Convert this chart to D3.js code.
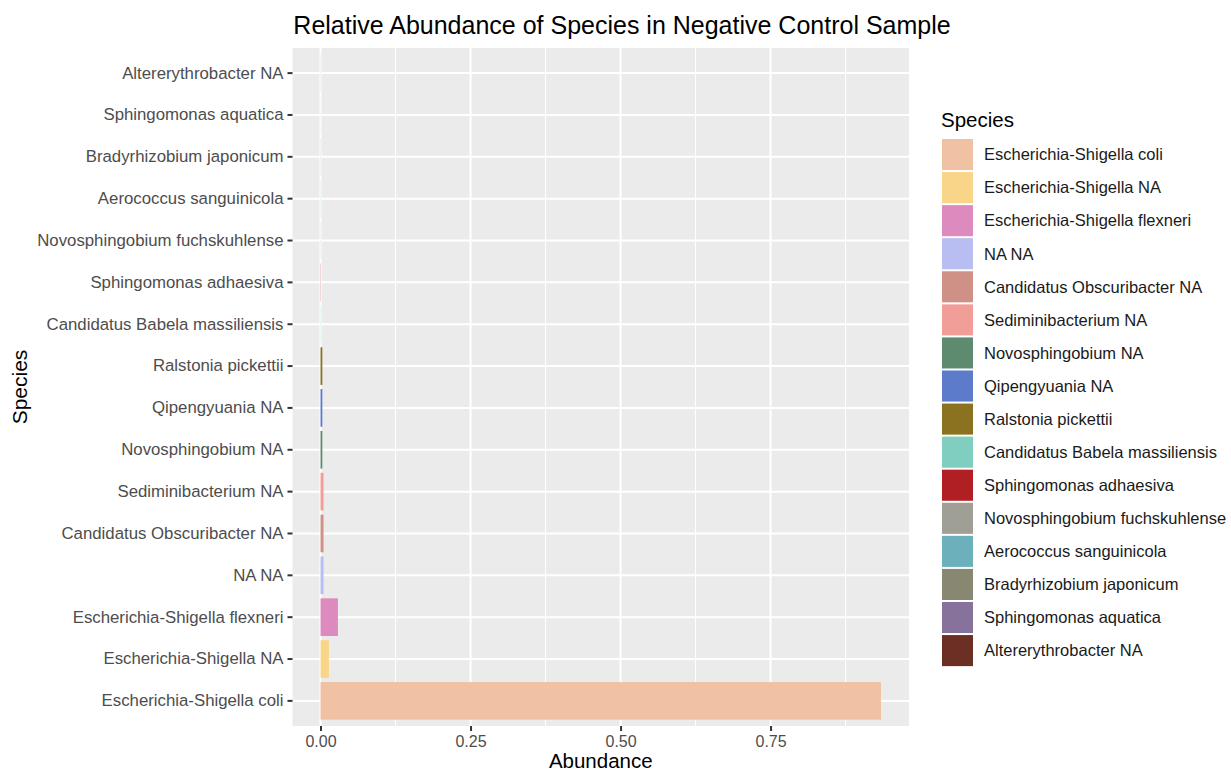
<!DOCTYPE html>
<html>
<head>
<meta charset="utf-8">
<script src="https://cdn.jsdelivr.net/npm/d3@7"></script>
<style>
  html, body { margin: 0; padding: 0; background: #ffffff; }
  svg { display: block; font-family: "Liberation Sans", Arial, Helvetica, sans-serif; }
</style>
</head>
<body>
<svg id="chart" width="1231" height="774"></svg>
<script>
// ---- data (bottom to top on the y axis, same order as legend) ----
const species = [
  "Escherichia-Shigella coli",
  "Escherichia-Shigella NA",
  "Escherichia-Shigella flexneri",
  "NA NA",
  "Candidatus Obscuribacter NA",
  "Sediminibacterium NA",
  "Novosphingobium NA",
  "Qipengyuania NA",
  "Ralstonia pickettii",
  "Candidatus Babela massiliensis",
  "Sphingomonas adhaesiva",
  "Novosphingobium fuchskuhlense",
  "Aerococcus sanguinicola",
  "Bradyrhizobium japonicum",
  "Sphingomonas aquatica",
  "Altererythrobacter NA"
];
const abundance = [
  0.934, 0.014, 0.029, 0.005, 0.005, 0.005, 0.003, 0.003, 0.003,
  0.0003, 0.0003, 0.0002, 0.0002, 0.0002, 0.0001, 0.0001
];
const colors = [
  "#F0C1A2", "#F9D58A", "#DD8BBE", "#B8BEF2", "#CF9185", "#F19E98",
  "#5D8B70", "#5C7CCB", "#8B7220", "#7FCEC0", "#B01F22", "#A09F96",
  "#6CB0BB", "#878772", "#87729B", "#6B2F24"
];
const xTicks = [0, 0.25, 0.5, 0.75];
const xMinor = [0.125, 0.375, 0.625, 0.875];
const titleText = "Relative Abundance of Species in Negative Control Sample";
const xTitle = "Abundance";
const yTitle = "Species";
const legendTitle = "Species";

// ---- layout ----
const svg = d3.select("#chart");
const panel = { left: 292.5, right: 909, top: 48, bottom: 726 };
const maxV = d3.max(abundance);
const pad = 0.05 * maxV;

const x = d3.scaleLinear()
  .domain([-pad, maxV + pad])
  .range([panel.left, panel.right]);

const y = d3.scaleBand()
  .domain(species)
  .range([panel.bottom, panel.top])
  .paddingInner(0.1)
  .paddingOuter(0.15);

const data = species.map((s, i) => ({ s, v: abundance[i], c: colors[i] }));
const color = d3.scaleOrdinal().domain(species).range(colors);

svg.append("rect").attr("width", 1231).attr("height", 774).attr("fill", "#ffffff");

// panel background
svg.append("rect")
  .attr("x", panel.left).attr("y", panel.top)
  .attr("width", panel.right - panel.left)
  .attr("height", panel.bottom - panel.top)
  .attr("fill", "#EBEBEB");

// minor gridlines
svg.append("g").selectAll("line").data(xMinor).join("line")
  .attr("x1", d => x(d)).attr("x2", d => x(d))
  .attr("y1", panel.top).attr("y2", panel.bottom)
  .attr("stroke", "#ffffff").attr("stroke-width", 1);

// major gridlines
svg.append("g").selectAll("line").data(xTicks).join("line")
  .attr("x1", d => x(d)).attr("x2", d => x(d))
  .attr("y1", panel.top).attr("y2", panel.bottom)
  .attr("stroke", "#ffffff").attr("stroke-width", 2);

svg.append("g").selectAll("line").data(species).join("line")
  .attr("x1", panel.left).attr("x2", panel.right)
  .attr("y1", d => y(d) + y.bandwidth() / 2).attr("y2", d => y(d) + y.bandwidth() / 2)
  .attr("stroke", "#ffffff").attr("stroke-width", 2);

// bars
svg.append("g").selectAll("rect").data(data).join("rect")
  .attr("x", x(0))
  .attr("y", d => y(d.s))
  .attr("width", d => Math.max(0, x(d.v) - x(0)))
  .attr("height", y.bandwidth())
  .attr("fill", d => color(d.s));

// x axis
const xAxis = svg.append("g")
  .attr("transform", `translate(0,${panel.bottom})`)
  .call(d3.axisBottom(x).tickValues(xTicks).tickFormat(d3.format(".2f")).tickSize(5).tickPadding(5));
xAxis.select(".domain").remove();
xAxis.selectAll(".tick line").attr("stroke", "#333333").attr("stroke-width", 2);
xAxis.selectAll(".tick text")
  .attr("fill", "#4D4D4D").attr("font-size", "16px")
  .attr("font-family", "Liberation Sans, Arial, sans-serif");

// y axis
const yAxis = svg.append("g")
  .attr("transform", `translate(${panel.left},0)`)
  .call(d3.axisLeft(y).tickSize(5).tickPadding(4));
yAxis.select(".domain").remove();
yAxis.selectAll(".tick line").attr("stroke", "#333333").attr("stroke-width", 2);
yAxis.selectAll(".tick text")
  .attr("fill", "#4D4D4D").attr("font-size", "16.8px")
  .attr("font-family", "Liberation Sans, Arial, sans-serif");

// titles
svg.append("text")
  .attr("x", 622).attr("y", 34)
  .attr("text-anchor", "middle")
  .attr("font-size", "25px").attr("fill", "#000")
  .text(titleText);

svg.append("text")
  .attr("x", (panel.left + panel.right) / 2).attr("y", 768)
  .attr("text-anchor", "middle")
  .attr("font-size", "20.5px").attr("fill", "#000")
  .text(xTitle);

svg.append("text")
  .attr("transform", `translate(27,${(panel.top + panel.bottom) / 2}) rotate(-90)`)
  .attr("text-anchor", "middle")
  .attr("font-size", "21px").attr("fill", "#000")
  .text(yTitle);

// legend
const lg = svg.append("g").attr("transform", "translate(941,0)");
lg.append("text").attr("x", 0).attr("y", 127)
  .attr("font-size", "20.5px").attr("fill", "#000").text(legendTitle);

const keyStep = 33.07;
const items = lg.selectAll("g.item").data(data).join("g")
  .attr("class", "item")
  .attr("transform", (d, i) => `translate(0,${139 + i * keyStep})`);
items.append("rect")
  .attr("x", 1).attr("y", 0)
  .attr("width", 31).attr("height", keyStep - 2)
  .attr("fill", d => color(d.s));
items.append("text")
  .attr("x", 43).attr("y", (keyStep - 2) / 2)
  .attr("dy", "0.35em")
  .attr("font-size", "16.5px").attr("fill", "#1a1a1a")
  .text(d => d.s);
</script>
</body>
</html>
